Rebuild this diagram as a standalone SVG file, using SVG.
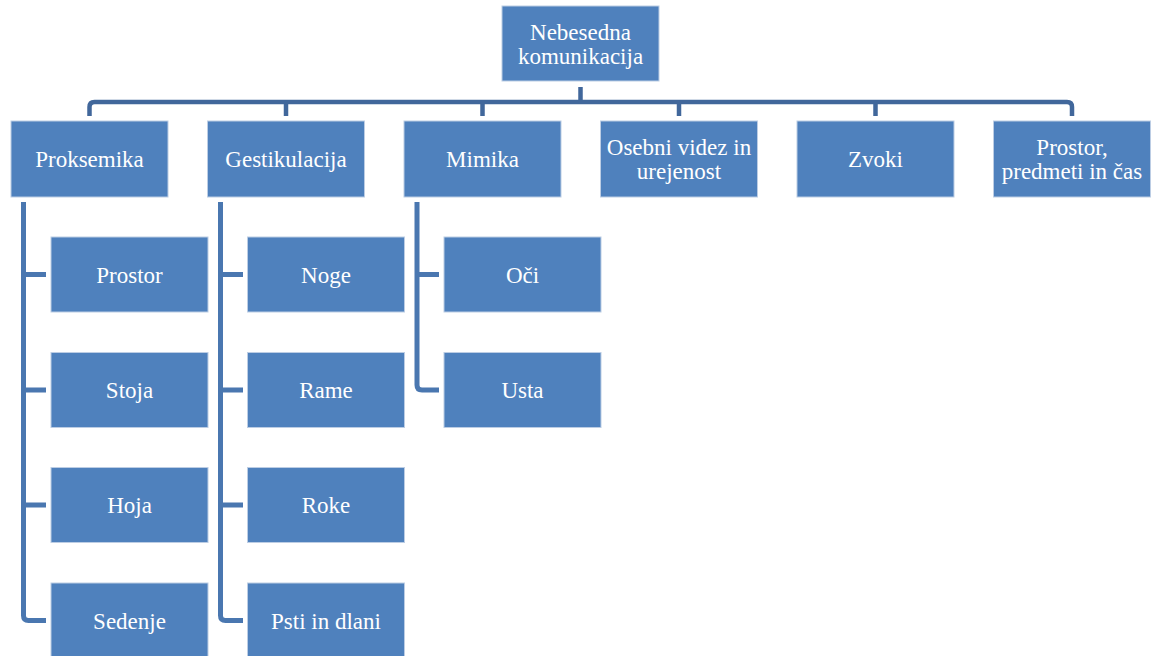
<svg xmlns="http://www.w3.org/2000/svg" width="1151" height="656" viewBox="0 0 1151 656">
<style>
.n rect{fill:#4F81BD;stroke:#BCCDE4;stroke-width:1}
.n text{fill:#FFFFFF;font-family:'Liberation Serif','Times New Roman','DejaVu Serif',serif;font-size:23px;text-anchor:middle}
.c path{fill:none;stroke-linejoin:round}
.top{stroke:#41679B;stroke-width:4.5}
.sub{stroke:#4A77B0;stroke-width:5}
</style>
<rect width="1151" height="656" fill="#FFFFFF"/>
<g id="connectors" class="c">
<path class="top" d="M580.5,87 V102 M89.5,116 V107 Q89.5,102 94.5,102 H1067 Q1072,102 1072,107 V116 M286,102 V116 M482.5,102 V116 M679,102 V116 M875.5,102 V116"/>
<path class="sub" d="M23.5,202 V615.5 Q23.5,620.5 28.5,620.5 H46 M23.5,274.5 H46 M23.5,390 H46 M23.5,505 H46"/>
<path class="sub" d="M220.5,202 V615.5 Q220.5,620.5 225.5,620.5 H243 M220.5,274.5 H243 M220.5,390 H243 M220.5,505 H243"/>
<path class="sub" d="M417,202 V385 Q417,390 422,390 H439 M417,274.5 H439"/>
</g>
<g id="nebesedna" class="n" font-family="Liberation Serif, serif"><rect x="502" y="6" width="157" height="75"/><text x="580.5" y="39.5">Nebesedna</text><text x="580.5" y="63.5">komunikacija</text></g>
<g id="proksemika" class="n"><rect x="11" y="121" width="157" height="76"/><text x="89.5" y="167">Proksemika</text></g>
<g id="gestikulacija" class="n"><rect x="207.5" y="121" width="157" height="76"/><text x="286" y="167">Gestikulacija</text></g>
<g id="mimika" class="n"><rect x="404" y="121" width="157" height="76"/><text x="482.5" y="167">Mimika</text></g>
<g id="osebni" class="n"><rect x="600.5" y="121" width="157" height="76"/><text x="679" y="155">Osebni videz in</text><text x="679" y="179">urejenost</text></g>
<g id="zvoki" class="n"><rect x="797" y="121" width="157" height="76"/><text x="875.5" y="167">Zvoki</text></g>
<g id="prostor-cas" class="n"><rect x="993.5" y="121" width="157" height="76"/><text x="1072" y="155">Prostor,</text><text x="1072" y="179">predmeti in čas</text></g>
<g id="prostor" class="n"><rect x="51" y="237" width="157" height="75"/><text x="129.5" y="282.5">Prostor</text></g>
<g id="stoja" class="n"><rect x="51" y="352.5" width="157" height="75"/><text x="129.5" y="398">Stoja</text></g>
<g id="hoja" class="n"><rect x="51" y="467.5" width="157" height="75"/><text x="129.5" y="513">Hoja</text></g>
<g id="sedenje" class="n"><rect x="51" y="583" width="157" height="75"/><text x="129.5" y="628.5">Sedenje</text></g>
<g id="noge" class="n"><rect x="247.5" y="237" width="157" height="75"/><text x="326" y="282.5">Noge</text></g>
<g id="rame" class="n"><rect x="247.5" y="352.5" width="157" height="75"/><text x="326" y="398">Rame</text></g>
<g id="roke" class="n"><rect x="247.5" y="467.5" width="157" height="75"/><text x="326" y="513">Roke</text></g>
<g id="psti" class="n"><rect x="247.5" y="583" width="157" height="75"/><text x="326" y="628.5">Psti in dlani</text></g>
<g id="oci" class="n"><rect x="444" y="237" width="157" height="75"/><text x="522.5" y="282.5">Oči</text></g>
<g id="usta" class="n"><rect x="444" y="352.5" width="157" height="75"/><text x="522.5" y="398">Usta</text></g>
</svg>
